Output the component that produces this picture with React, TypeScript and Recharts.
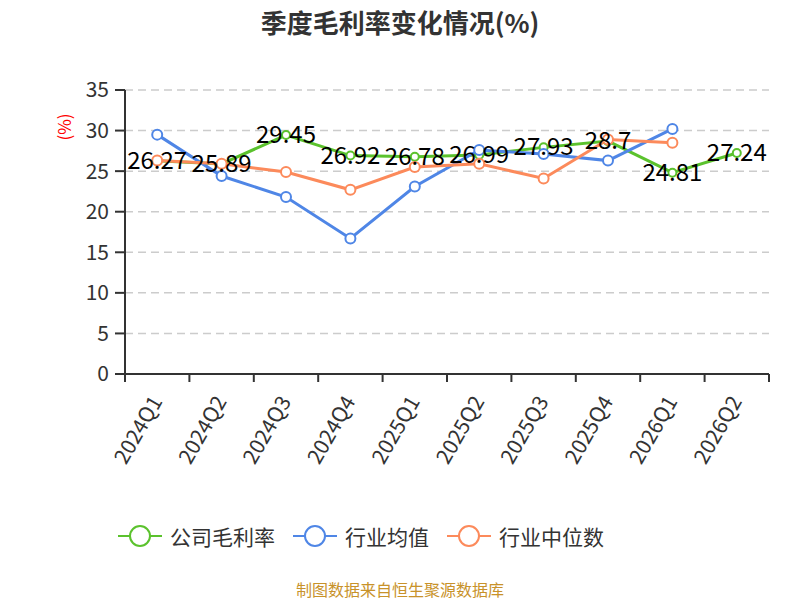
import React from 'react';
import { LineChart, Line, XAxis, YAxis, CartesianGrid } from 'recharts';

const quarters = ['2024Q1', '2024Q2', '2024Q3', '2024Q4', '2025Q1', '2025Q2', '2025Q3', '2025Q4', '2026Q1', '2026Q2'];
const companyMargin = [26.27, 25.89, 29.45, 26.92, 26.78, 26.99, 27.93, 28.7, 24.81, 27.24];
const industryAvg = [29.5, 24.4, 21.8, 16.7, 23.1, 27.6, 27.1, 26.3, 30.2, null];
const industryMedian = [26.3, 25.9, 24.9, 22.7, 25.5, 25.9, 24.1, 28.9, 28.5, null];
const yTicks = [0, 5, 10, 15, 20, 25, 30, 35];

const seriesNames = ['公司毛利率', '行业均值', '行业中位数'];
const colors = ['#5bc22d', '#4f86e6', '#fc8a5b'];

const data = quarters.map((q, i) => ({
  pos: i + 0.5,
  q,
  company: companyMargin[i],
  avg: industryAvg[i],
  median: industryMedian[i],
}));

const boundaryTicks = quarters.map((_, i) => i).concat([quarters.length]);

const W = 800;
const H = 600;
const X_H = 100;
const MARGIN = { top: 90, right: 31, bottom: 226 - X_H, left: 0 };
const Y_W = 125;
const PLOT_W = W - MARGIN.left - MARGIN.right - Y_W;
const HALF_BAND = PLOT_W / quarters.length / 2;

const FONT = '"Noto Sans CJK SC", "Noto Sans", sans-serif';

const XTick = (props: any) => {
  const { x, y, payload } = props;
  const v = payload.value as number;
  const label = quarters[v];
  const lx = x + HALF_BAND - 2;
  const ly = y + 15;
  return (
    <g>
      <line x1={x} y1={y - 8} x2={x} y2={y} stroke="#333" strokeWidth={2} />
      {label ? (
        <text
          x={lx}
          y={ly}
          textAnchor="end"
          dominantBaseline="central"
          transform={`rotate(-60, ${lx}, ${ly})`}
          fontSize={21}
          fill="#333"
          fontFamily={FONT}
        >
          {label}
        </text>
      ) : null}
    </g>
  );
};

const ValueLabel = (props: any) => {
  const { x, y, value } = props;
  if (value == null) return null;
  return (
    <text x={x} y={y + 8} textAnchor="middle" fontSize={24} fill="#000" fontFamily={FONT}>
      {value}
    </text>
  );
};

const LegendBlock = () => (
  <div
    style={{
      position: 'absolute',
      top: 521,
      left: 118,
      display: 'flex',
      alignItems: 'center',
      fontFamily: FONT,
      fontSize: 21,
      color: '#333',
      whiteSpace: 'nowrap',
    }}
  >
    {seriesNames.map((n, i) => (
      <div key={n} style={{ display: 'flex', alignItems: 'center', marginRight: i < 2 ? 18 : 0 }}>
        <svg width={44} height={26} style={{ marginRight: 8 }}>
          <line x1={0} y1={13} x2={44} y2={13} stroke={colors[i]} strokeWidth={2} />
          <circle cx={22} cy={13} r={10} fill="#fff" stroke={colors[i]} strokeWidth={2} />
        </svg>
        <span>{n}</span>
      </div>
    ))}
  </div>
);

export default function App() {
  return (
    <div style={{ position: 'absolute', left: 0, top: 0, width: W, height: H, background: '#fff' }}>
      <div
        style={{
          position: 'absolute',
          top: 3,
          width: W,
          textAlign: 'center',
          fontFamily: FONT,
          fontSize: 26,
          fontWeight: 'bold',
          color: '#333',
        }}
      >
        季度毛利率变化情况(%)
      </div>
      <div
        style={{
          position: 'absolute',
          left: 63,
          top: 127,
          transform: 'translate(-50%, -50%) rotate(-90deg)',
          fontFamily: FONT,
          fontSize: 17,
          color: '#f00',
          whiteSpace: 'nowrap',
        }}
      >
        (%)
      </div>
      <LineChart width={W} height={H} data={data} margin={MARGIN}>
        <CartesianGrid horizontal vertical={false} stroke="#ccc" strokeDasharray="8 5" strokeWidth={1.5} />
        <XAxis
          dataKey="pos"
          type="number"
          domain={[0, quarters.length]}
          ticks={boundaryTicks}
          interval={0}
          tick={<XTick />}
          tickLine={false}
          axisLine={{ stroke: '#333', strokeWidth: 2 }}
          height={X_H}
        />
        <YAxis
          width={Y_W}
          domain={[0, 35]}
          ticks={yTicks}
          interval={0}
          tickSize={10}
          tickMargin={6}
          tick={{ fontSize: 21, fill: '#333', fontFamily: FONT }}
          tickLine={{ stroke: '#333', strokeWidth: 2 }}
          axisLine={{ stroke: '#333', strokeWidth: 2 }}
        />
        <Line
          dataKey="company"
          name={seriesNames[0]}
          stroke={colors[0]}
          strokeWidth={3}
          dot={{ r: 4, fill: '#fff', stroke: colors[0], strokeWidth: 2 }}
          isAnimationActive={false}
          label={<ValueLabel />}
        />
        <Line
          dataKey="avg"
          name={seriesNames[1]}
          stroke={colors[1]}
          strokeWidth={3}
          dot={{ r: 5, fill: '#fff', stroke: colors[1], strokeWidth: 2 }}
          isAnimationActive={false}
        />
        <Line
          dataKey="median"
          name={seriesNames[2]}
          stroke={colors[2]}
          strokeWidth={3}
          dot={{ r: 5, fill: '#fff', stroke: colors[2], strokeWidth: 2 }}
          isAnimationActive={false}
        />
      </LineChart>
      <LegendBlock />
      <div
        style={{
          position: 'absolute',
          top: 577,
          width: W,
          textAlign: 'center',
          fontFamily: FONT,
          fontSize: 16,
          color: '#c8922a',
        }}
      >
        制图数据来自恒生聚源数据库
      </div>
    </div>
  );
}
